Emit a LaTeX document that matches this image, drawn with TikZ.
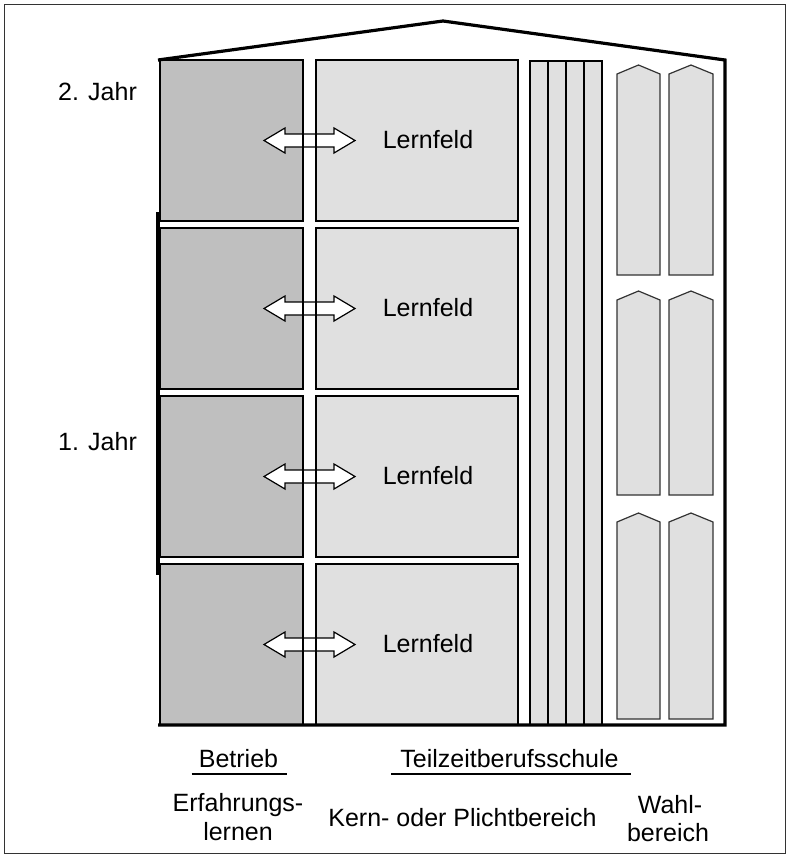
\documentclass[tikz,border=0pt]{standalone}
\usepackage{fontspec}
\setmainfont{Liberation Sans}
\definecolor{dunkel}{gray}{0.75}
\definecolor{hell}{gray}{0.88}
\newcommand{\pfeil}[1]{
	\filldraw [fill=white, draw=black, line width=1.2pt, shift={(#1)}] (-45.5,0) -- (-24.5,-12.5) -- (-24.5,-6.5) -- (24.5,-6.5) -- (24.5,-12.5) -- (45.5,0) -- (24.5,12.5) -- (24.5,6.5) -- (-24.5,6.5) -- (-24.5,12.5) -- cycle;
	}
\newcommand{\wahlfach}[4]{
	\filldraw [fill=hell, draw=black!80, line width=1.2pt] (#1,#4) -- (#1,#3+9) -- ({(#1+#2)/2},#3) -- (#2,#3+9) -- (#2,#4) -- cycle;
	}
\tikzset{
	kasten/.style={draw=black, line width=2.2pt},
	wand/.style={line width=3.2pt, line join=miter},
	strich/.style={line width=2.8pt},
	schrift/.style={font=\fontsize{25}{29}\selectfont, inner sep=0pt, anchor=base}
}

\begin{document}
\begin{tikzpicture}[x=1pt, y=-1pt]
	\useasboundingbox (0,0) rectangle (789,857);
	\draw [line width=1pt, black!80] (4,4) rectangle (785,853);
	% Betrieb und Lernfelder
	\foreach \y in {60,228,396,564} {
		\fill [dunkel] (160,\y) rectangle (303,\y+161);
		\fill [hell] (316,\y) rectangle (518,\y+161);
		\pfeil{309.5,\y+80.5}
		\draw [kasten] (160,\y) rectangle (303,\y+161);
		\draw [kasten] (316,\y) rectangle (518,\y+161);
	}
	\node [schrift] (lf1) at (428,148) {Lernfeld};
	\node [schrift] (lf2) at (428,316) {Lernfeld};
	\node [schrift] (lf3) at (428,484) {Lernfeld};
	\node [schrift] (lf4) at (428,652) {Lernfeld};
	% Kernbereich
	\filldraw [fill=hell, kasten] (530,61) rectangle (602,725);
	\foreach \x in {548,566,584}
		\draw [kasten] (\x,61) -- (\x,725);
	% Wahlbereich
	\wahlfach{617}{660}{65}{275}
	\wahlfach{669}{713}{65}{275}
	\wahlfach{617}{660}{291}{495}
	\wahlfach{669}{713}{291}{495}
	\wahlfach{617}{660}{513}{719}
	\wahlfach{669}{713}{513}{719}
	% Haus
	\draw [wand] (158,60) -- (443,21) -- (725,60) -- (725,725) -- (158,725);
	\draw [wand] (158,212) -- (158,575);
	% Beschriftung
	\node [schrift] (jahr2) at (97.5,100) {2. Jahr};
	\node [schrift] (jahr1) at (97.5,450) {1. Jahr};
	\node [schrift] (betrieb) at (238.5,767) {Betrieb};
	\node [schrift] (schule) at (509.5,767) {Teilzeitberufsschule};
	\draw [strich] ([xshift=-7pt,yshift=-7pt]betrieb.base west) -- ([xshift=9pt,yshift=-7pt]betrieb.base east);
	\draw [strich] ([xshift=-9pt,yshift=-7pt]schule.base west) -- ([xshift=12pt,yshift=-7pt]schule.base east);
	\node [schrift] (erf1) at (238,811) {Erfahrungs-};
	\node [schrift] (erf2) at (238,840) {lernen};
	\node [schrift] (kern) at (462.5,826) {Kern- oder Plichtbereich};
	\node [schrift] (wahl1) at (670,813) {Wahl-};
	\node [schrift] (wahl2) at (668,841) {bereich};
\end{tikzpicture}
\end{document}
